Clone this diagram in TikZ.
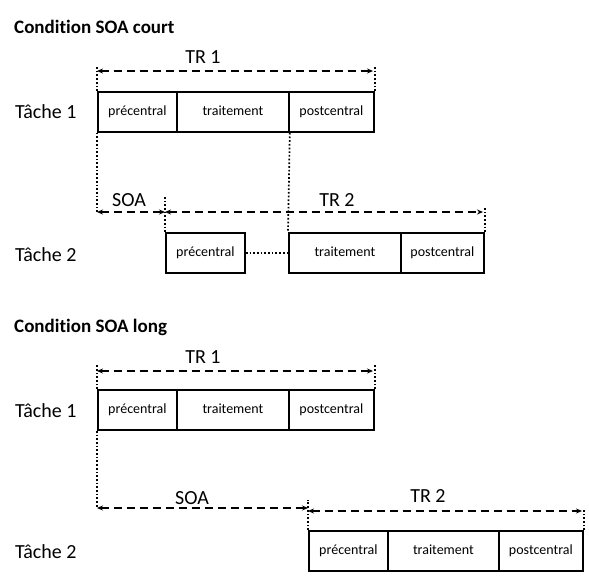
\documentclass[tikz,border=0pt]{standalone}
\usepackage{fontspec}
\setmainfont{Carlito}[RawFeature=-liga]
\usetikzlibrary{arrows.meta}
\begin{document}
\begin{tikzpicture}[x=1pt,y=-1pt,
  seg/.style={draw,line width=1.8pt,minimum height=40pt,inner sep=0pt,anchor=north west,
    text height=10pt,text depth=3pt,font=\fontsize{14}{16}\selectfont},
  span/.style={line width=1.7pt,dash pattern=on 8pt off 5pt,{Stealth[length=6pt,width=5pt]}-{Stealth[length=6pt,width=5pt]}},
  guide/.style={line width=1.7pt,dotted},
  lbl/.style={font=\fontsize{20}{22}\selectfont,inner sep=0pt},
  ttl/.style={font=\bfseries\fontsize{19}{22}\selectfont,anchor=west,inner sep=0pt},
  task/.style={font=\fontsize{20}{22}\selectfont,anchor=west,inner sep=0pt}]
\useasboundingbox (0,0) rectangle (589,585);

% ---------- short SOA ----------
\node[ttl] (titleA) at (14,27) {Condition SOA court};
\node[task] (tA1) at (15,112) {Tâche 1};
\node[task] (tA2) at (15,255) {Tâche 2};

\node[seg,minimum width=79pt] (a1pre) at (97,91) {précentral};
\node[seg,minimum width=112pt] (a1tr) at (176,91) {traitement};
\node[seg,minimum width=85pt] (a1post) at (288,91) {postcentral};

\node[seg,minimum width=79pt] (a2pre) at (165,232) {précentral};
\node[seg,minimum width=112pt] (a2tr) at (288,232) {traitement};
\node[seg,minimum width=83pt] (a2post) at (400,232) {postcentral};

\coordinate (aTRl) at (97,71);
\coordinate (aTRr) at (373,71);
\coordinate (aSl) at (97,212);
\coordinate (aSr) at (165,212);
\coordinate (aT2r) at (483,212);

\draw[guide] (a1pre.north west) -- ++(0,-25);
\draw[guide] (a1post.north east) -- ++(0,-25);
\draw[span] (aTRl) -- (aTRr);
\node[lbl] (aTR1) at (203,57) {TR 1};

\draw[guide] (a1pre.south west) -- (aSl);
\draw[guide] (a1tr.south east) -- (a2tr.north west);
\draw[guide] (a2pre.north west) -- ++(0,-36);
\draw[guide] (a2post.north east) -- ++(0,-24);
\draw[span] (aSl) -- (aSr);
\draw[span] (aSr) -- (aT2r);
\node[lbl] (aSOA) at (129,200) {SOA};
\node[lbl] (aTR2) at (337,200) {TR 2};
\draw[guide] (a2pre.east) -- (a2tr.west);

% ---------- long SOA ----------
\node[ttl] (titleB) at (14,327) {Condition SOA long};
\node[task] (tB1) at (15,411) {Tâche 1};
\node[task] (tB2) at (15,552) {Tâche 2};

\node[seg,minimum width=79pt] (b1pre) at (97,389) {précentral};
\node[seg,minimum width=112pt] (b1tr) at (176,389) {traitement};
\node[seg,minimum width=85pt] (b1post) at (288,389) {postcentral};

\node[seg,minimum width=79pt] (b2pre) at (308,530) {précentral};
\node[seg,minimum width=111pt] (b2tr) at (387,530) {traitement};
\node[seg,minimum width=84pt] (b2post) at (498,530) {postcentral};

\coordinate (bTRl) at (97,371);
\coordinate (bTRr) at (373,371);
\coordinate (bSl) at (97,508);
\coordinate (bSr) at (308,508);
\coordinate (bT2l) at (308,511);
\coordinate (bT2r) at (582,511);

\draw[guide] (b1pre.north west) -- ++(0,-24);
\draw[guide] (b1post.north east) -- ++(0,-24);
\draw[span] (bTRl) -- (bTRr);
\node[lbl] (bTR1) at (203,357) {TR 1};

\draw[guide] (b1pre.south west) -- (bSl);
\draw[guide] (b2pre.north west) -- ++(0,-30);
\draw[guide] (b2post.north east) -- ++(0,-22);
\draw[span] (bSl) -- (bSr);
\draw[span] (bT2l) -- (bT2r);
\node[lbl] (bSOA) at (192,498) {SOA};
\node[lbl] (bTR2) at (428,496) {TR 2};
\end{tikzpicture}
\end{document}
